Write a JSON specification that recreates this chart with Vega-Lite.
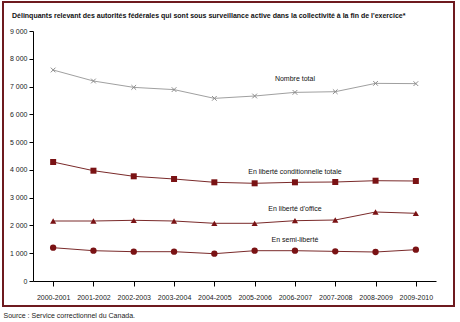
{
  "$schema": "https://vega.github.io/schema/vega-lite/v6.json",
  "width": 451,
  "height": 304,
  "autosize": {"type": "none"},
  "padding": {"left": 3, "top": 2, "right": 6, "bottom": 16},
  "background": "white",
  "config": {
    "view": {"stroke": "#6e1a1f", "strokeWidth": 2},
    "font": "Liberation Sans",
    "axis": {"grid": false, "domainColor": "#000000", "tickColor": "#000000", "labelColor": "#222222", "labelFont": "Liberation Sans", "labelFontSize": 7}
  },
  "title": {
    "text": "Délinquants relevant des autorités fédérales qui sont sous surveillance active dans la collectivité à la fin de l'exercice*",
    "anchor": "start",
    "frame": "group",
    "offset": -17,
    "dx": 9,
    "font": "Liberation Sans",
    "fontSize": 7,
    "fontWeight": "bold",
    "color": "#111111"
  },
  "datasets": {
    "series": [
      {"year": "2000-2001", "series": "total", "value": 7596},
      {"year": "2001-2002", "series": "total", "value": 7200},
      {"year": "2002-2003", "series": "total", "value": 6970},
      {"year": "2003-2004", "series": "total", "value": 6890},
      {"year": "2004-2005", "series": "total", "value": 6575},
      {"year": "2005-2006", "series": "total", "value": 6660},
      {"year": "2006-2007", "series": "total", "value": 6790},
      {"year": "2007-2008", "series": "total", "value": 6815},
      {"year": "2008-2009", "series": "total", "value": 7115},
      {"year": "2009-2010", "series": "total", "value": 7105},
      {"year": "2000-2001", "series": "conditionnelle", "value": 4284},
      {"year": "2001-2002", "series": "conditionnelle", "value": 3971},
      {"year": "2002-2003", "series": "conditionnelle", "value": 3769},
      {"year": "2003-2004", "series": "conditionnelle", "value": 3672},
      {"year": "2004-2005", "series": "conditionnelle", "value": 3553},
      {"year": "2005-2006", "series": "conditionnelle", "value": 3517},
      {"year": "2006-2007", "series": "conditionnelle", "value": 3553},
      {"year": "2007-2008", "series": "conditionnelle", "value": 3564},
      {"year": "2008-2009", "series": "conditionnelle", "value": 3611},
      {"year": "2009-2010", "series": "conditionnelle", "value": 3600},
      {"year": "2000-2001", "series": "office", "value": 2160},
      {"year": "2001-2002", "series": "office", "value": 2160},
      {"year": "2002-2003", "series": "office", "value": 2185},
      {"year": "2003-2004", "series": "office", "value": 2160},
      {"year": "2004-2005", "series": "office", "value": 2077},
      {"year": "2005-2006", "series": "office", "value": 2077},
      {"year": "2006-2007", "series": "office", "value": 2171},
      {"year": "2007-2008", "series": "office", "value": 2196},
      {"year": "2008-2009", "series": "office", "value": 2484},
      {"year": "2009-2010", "series": "office", "value": 2437},
      {"year": "2000-2001", "series": "semi", "value": 1199},
      {"year": "2001-2002", "series": "semi", "value": 1091},
      {"year": "2002-2003", "series": "semi", "value": 1055},
      {"year": "2003-2004", "series": "semi", "value": 1055},
      {"year": "2004-2005", "series": "semi", "value": 983},
      {"year": "2005-2006", "series": "semi", "value": 1091},
      {"year": "2006-2007", "series": "semi", "value": 1091},
      {"year": "2007-2008", "series": "semi", "value": 1067},
      {"year": "2008-2009", "series": "semi", "value": 1044},
      {"year": "2009-2010", "series": "semi", "value": 1127}
    ],
    "labels": [
      {"year": "2006-2007", "value": 7270, "label": "Nombre total"},
      {"year": "2006-2007", "value": 3924, "label": "En liberté conditionnelle totale"},
      {"year": "2006-2007", "value": 2592, "label": "En liberté d'office"},
      {"year": "2006-2007", "value": 1476, "label": "En semi-liberté"}
    ]
  },
  "encoding": {
    "x": {
      "field": "year", "type": "ordinal",
      "scale": {"type": "point", "range": [30, 433]},
      "axis": {
        "labelAngle": 0, "offset": -25, "tickSize": 5, "labelPadding": 7,
        "title": "Source : Service correctionnel du Canada.",
        "titleX": 0, "titleY": 34, "titleAnchor": "start", "titleAlign": "left", "titleBaseline": "middle",
        "titleFont": "Liberation Sans", "titleFontSize": 7, "titleFontWeight": "normal", "titleColor": "#222222"
      }
    },
    "y": {
      "field": "value", "type": "quantitative",
      "scale": {"domain": [0, 9000], "range": [279, 29], "nice": false, "zero": true},
      "axis": {
        "title": null, "offset": -30, "values": [0,1000,2000,3000,4000,5000,6000,7000,8000,9000],
        "tickSize": 4, "labelPadding": 2,
        "labelExpr": "replace(format(datum.value, ','), ',', ' ')"
      }
    }
  },
  "layer": [
    {
      "data": {"name": "series"},
      "mark": {"type": "line", "strokeWidth": 1},
      "encoding": {
        "color": {"field": "series", "type": "nominal", "legend": null,
          "scale": {"domain": ["total", "conditionnelle", "office", "semi"], "range": ["#a0a0a0", "#7a2a2a", "#7a2a2a", "#7a2a2a"]}}
      }
    },
    {
      "data": {"name": "series"},
      "transform": [{"filter": "datum.series === 'total'"}],
      "mark": {"type": "point", "shape": "M-1,-1L1,1M-1,1L1,-1", "filled": false, "size": 22, "stroke": "#8c8c8c", "strokeWidth": 1, "opacity": 1}
    },
    {
      "data": {"name": "series"},
      "transform": [{"filter": "datum.series !== 'total'"}],
      "mark": {"type": "point", "filled": true, "opacity": 1, "color": "#7a1214"},
      "encoding": {
        "shape": {"field": "series", "type": "nominal", "legend": null,
          "scale": {"domain": ["conditionnelle", "office", "semi"], "range": ["square", "triangle-up", "circle"]}},
        "size": {"field": "series", "type": "nominal", "legend": null,
          "scale": {"domain": ["conditionnelle", "office", "semi"], "range": [36, 40, 34]}}
      }
    },
    {
      "data": {"name": "labels"},
      "mark": {"type": "text", "font": "Liberation Sans", "fontSize": 7, "color": "#111111", "align": "center", "baseline": "middle"},
      "encoding": {"text": {"field": "label"}}
    }
  ]
}
